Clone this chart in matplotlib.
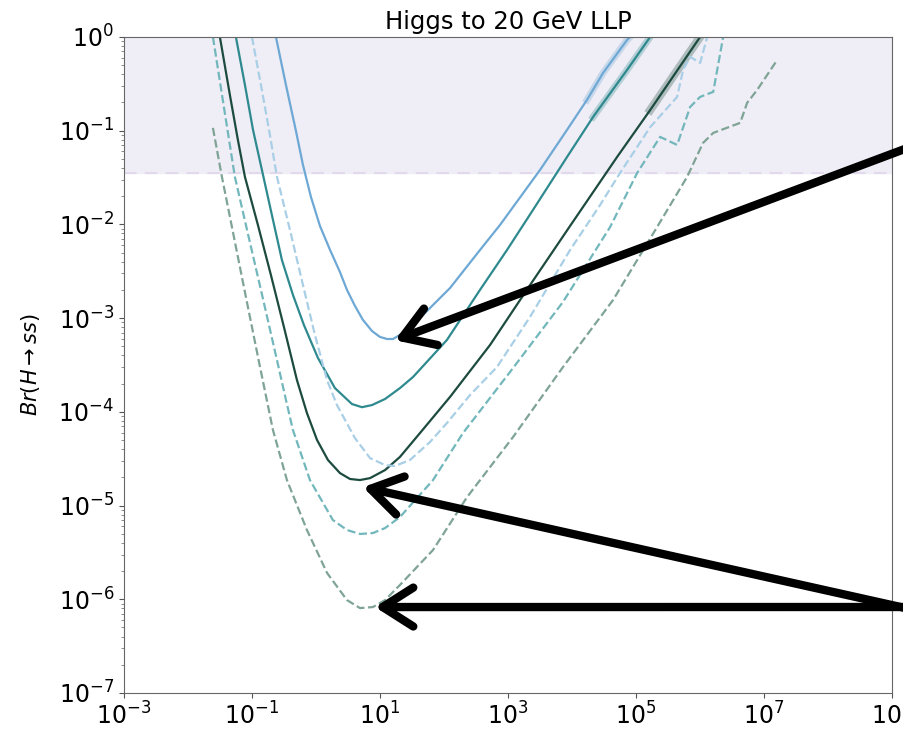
import matplotlib
matplotlib.use('Agg')
import matplotlib.pyplot as plt
from matplotlib.ticker import LogLocator, NullLocator

# Data, x = c*tau, y = Br(H -> ss)
lb_x = [0.237, 0.340, 0.487, 0.627, 0.835, 1.155, 1.66, 2.37, 3.05, 4.06, 5.42, 7.50, 10,
        12.9, 16.0, 22.9, 32.8, 60.4, 124, 365, 750, 3162, 8350, 1.71e4, 3.05e4, 7.23e4,
        8.05e4]
lb_y = [1, 0.307, 0.0993, 0.0430, 0.0196, 9.62e-3, 5.33e-3, 3.10e-3, 2.00e-3, 1.35e-3,
        9.55e-4, 7.28e-4, 6.29e-4, 5.98e-4, 5.98e-4, 6.93e-4, 8.43e-4, 1.28e-3, 2.09e-3,
        5.33e-3, 9.86e-3, 0.0381, 0.102, 0.213, 0.413, 0.929, 1]

teal_x = [0.0562, 0.0778, 0.104, 0.149, 0.205, 0.294, 0.437, 0.649, 1.075, 1.98, 3.65,
          5.23, 7.50, 12.0, 20.5, 32.8, 111, 365, 964, 2460, 8350, 2.13e4, 7.23e4, 1.66e5]
teal_y = [1, 0.307, 0.102, 0.0337, 0.0126, 4.17e-3, 1.77e-3, 8.43e-4, 3.75e-4, 1.79e-4,
          1.21e-4, 1.12e-4, 1.18e-4, 1.37e-4, 1.79e-4, 2.35e-4, 5.84e-4, 2.00e-3, 5.33e-3,
          0.0143, 0.0524, 0.140, 0.445, 1]

dark_x = [0.0316, 0.0453, 0.0604, 0.0778, 0.124, 0.198, 0.316, 0.505, 0.723, 1.04, 1.54,
          2.37, 3.40, 4.87, 6.98, 12.0, 20.5, 42.2, 124, 523, 2206, 9310, 5.05e4, 1.66e5,
          1e6]
dark_y = [1, 0.240, 0.0796, 0.0321, 9.86e-3, 2.88e-3, 8.04e-4, 2.18e-4, 9.71e-5, 5.00e-5,
          3.06e-5, 2.22e-5, 1.92e-5, 1.87e-5, 1.96e-5, 2.39e-5, 3.30e-5, 5.94e-5, 1.44e-4,
          5.16e-4, 2.25e-3, 9.62e-3, 0.0524, 0.166, 1]

lbd_x = [0.1, 0.143, 0.191, 0.246, 0.393, 0.627, 0.964, 1.49, 2.13, 4.06, 6.98, 12.0,
         17.1, 29.4, 60.4, 111, 255, 673, 2206, 9310, 2.74e4, 5.62e4, 1.66e5, 4.37e5,
         5.42e5, 6.98e5, 1e6, 1.29e6]
lbd_y = [1, 0.272, 0.0899, 0.0321, 8.71e-3, 2.25e-3, 6.61e-4, 2.18e-4, 1.18e-4, 5.25e-5,
         3.21e-5, 2.70e-5, 2.64e-5, 3.06e-5, 4.76e-5, 7.59e-5, 1.51e-4, 3.01e-4, 1.03e-3,
         5.33e-3, 0.0161, 0.0354, 0.109, 0.229, 0.445, 0.612, 0.528, 1]

tealdash_x = [0.0246, 0.0365, 0.0542, 0.0897, 0.149, 0.246, 0.340, 0.437, 0.805, 1.84,
              3.05, 4.87, 7.77, 12.0, 20.5, 67.3, 198, 1197, 7230, 3.93e4, 1.04e5, 2.37e5,
              4.37e5, 6.98e5, 1e6, 1.60e6, 2.29e6]
tealdash_y = [1, 0.179, 0.0321, 7.16e-3, 1.60e-3, 3.57e-4, 1.34e-4, 6.40e-5, 1.87e-5,
              7.00e-6, 5.48e-6, 4.97e-6, 5.09e-6, 5.75e-6, 7.53e-6, 1.87e-5, 5.94e-5,
              2.93e-4, 1.49e-3, 9.38e-3, 0.0354, 0.0857, 0.0704, 0.179, 0.229, 0.259, 1]

gray_x = [0.0246, 0.0340, 0.0505, 0.0805, 0.129, 0.213, 0.352, 0.723, 1.49, 3.05, 4.87,
          7.77, 12.0, 20.5, 67.3, 229, 1197, 7230, 4.37e4, 2.13e5, 6.26e5, 1.11e6, 1.60e6,
          4.22e6, 5.42e6, 7.78e6, 1.60e7]
gray_y = [0.107, 0.0321, 8.30e-3, 1.68e-3, 3.40e-4, 6.40e-5, 1.87e-5, 5.48e-6, 1.91e-6,
          9.80e-7, 8.05e-7, 8.26e-7, 9.80e-7, 1.42e-6, 3.35e-6, 1.23e-5, 5.38e-5, 3.01e-4,
          1.56e-3, 9.38e-3, 0.0321, 0.0739, 0.0945, 0.121, 0.198, 0.272, 0.569]

excluded_br = 0.035

# arrow tips (data) and tails (figure pixels, outside the cropped frame)
arrow_tips = [(17.1, 5.8e-4), (5.42, 1.57e-5), (8.35, 8.26e-7)]
arrow_tails = [(950, 597), (950, 111), (950, 122)]

fig = plt.figure(figsize=(9.04, 7.29), dpi=100)
ax = fig.add_axes([0.137, 0.0494, 0.85, 0.9])

ax.axhspan(excluded_br, 1, color='#efedf5', zorder=0)
ax.axhline(excluded_br, color='#e2d9ec', lw=1.5, ls=(0, (6, 4)), zorder=0)

ax.plot(lb_x, lb_y, color='#6ea8d5', lw=1.6)
ax.plot(lb_x[-4:], lb_y[-4:], color='#6ea8d5', lw=5, alpha=0.3)
ax.plot(teal_x, teal_y, color='#2f8a8f', lw=1.6)
ax.plot(teal_x[-3:], teal_y[-3:], color='#2f8a8f', lw=5, alpha=0.3)
ax.plot(dark_x, dark_y, color='#1d4b3f', lw=1.6)
ax.plot(dark_x[-2:], dark_y[-2:], color='#1d4b3f', lw=6, alpha=0.3)
ax.plot(lbd_x, lbd_y, color='#a9cfe6', lw=1.6, ls='--')
ax.plot(tealdash_x, tealdash_y, color='#72b7bc', lw=1.6, ls='--')
ax.plot(gray_x, gray_y, color='#7fa496', lw=1.6, ls='--')

ax.set_xscale('log')
ax.set_yscale('log')
ax.set_xlim(1e-3, 1e9)
ax.set_ylim(1e-7, 1)
ax.set_xticks([1e-3, 1e-1, 1e1, 1e3, 1e5, 1e7, 1e9])
ax.xaxis.set_minor_locator(NullLocator())
ax.yaxis.set_major_locator(LogLocator(base=10, numticks=20))
ax.yaxis.set_minor_locator(LogLocator(base=10, subs=range(2, 10), numticks=20))
ax.tick_params(axis='both', which='major', labelsize=17, color='#555555')
ax.tick_params(axis='y', which='minor', color='#777777')
for sp in ax.spines.values():
    sp.set_color('#666666')

ax.set_title('Higgs to 20 GeV LLP', fontsize=17.5)
ax.set_ylabel(r'$Br(H \rightarrow ss)$', fontsize=15)
ax.yaxis.set_label_coords(-0.106, 0.5)

for tip, tail in zip(arrow_tips, arrow_tails):
    ax.annotate('', xy=tip, xycoords='data', xytext=tail, textcoords='figure pixels',
                annotation_clip=False,
                arrowprops=dict(arrowstyle='->,head_length=0.55,head_width=0.35',
                                color='black', lw=6, mutation_scale=40,
                                shrinkA=0, shrinkB=0))

fig.savefig('out.png', dpi=100)
